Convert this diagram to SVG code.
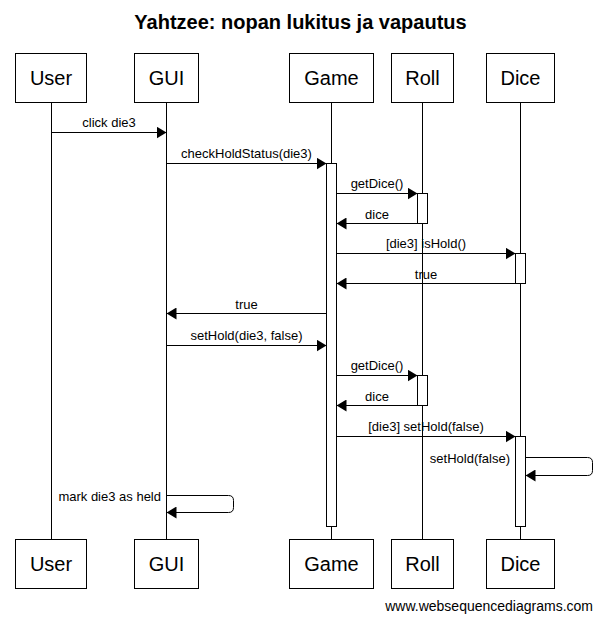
<svg xmlns="http://www.w3.org/2000/svg" width="602" height="623" viewBox="0 0 602 623">
<style>
.box{fill:#fff;stroke:#000;stroke-width:1}
.life{stroke:#000;stroke-width:1}
.act{fill:#fff;stroke:#000;stroke-width:1}
.msg{fill:none;stroke:#000;stroke-width:1;marker-end:url(#ah)}
.pt{font-family:"Liberation Sans",Arial,sans-serif;font-size:20px;fill:#000;text-anchor:middle}
.lbl{font-family:"Liberation Sans",Arial,sans-serif;font-size:13px;fill:#000;text-anchor:middle}
.lblr{font-family:"Liberation Sans",Arial,sans-serif;font-size:13px;fill:#000;text-anchor:end}
.title{font-family:"Liberation Sans",Arial,sans-serif;font-size:20px;font-weight:bold;fill:#000;text-anchor:middle}
.wm{font-family:"Liberation Sans",Arial,sans-serif;font-size:14px;fill:#000;text-anchor:end}
</style>
<defs>
<marker id="ah" markerUnits="userSpaceOnUse" markerWidth="10" markerHeight="12" refX="10" refY="6" orient="auto">
<path d="M0,0 L10,6 L0,12 z" fill="#000"/>
</marker>
</defs>
<rect width="602" height="623" fill="#fff"/>
<text class="title" x="300.5" y="29">Yahtzee: nopan lukitus ja vapautus</text>

<g id="lifelines">
<line class="life" x1="51.5" y1="102.5" x2="51.5" y2="539.5"/>
<line class="life" x1="166.5" y1="102.5" x2="166.5" y2="539.5"/>
<line class="life" x1="331.5" y1="102.5" x2="331.5" y2="539.5"/>
<line class="life" x1="422.5" y1="102.5" x2="422.5" y2="539.5"/>
<line class="life" x1="520.5" y1="102.5" x2="520.5" y2="539.5"/>
</g>

<g id="User">
<rect class="box" x="15.5" y="53.5" width="71" height="49"/>
<text class="pt" x="51" y="85">User</text>
<rect class="box" x="15.5" y="539.5" width="71" height="49"/>
<text class="pt" x="51" y="571">User</text>
</g>
<g id="GUI">
<rect class="box" x="134.5" y="53.5" width="64" height="49"/>
<text class="pt" x="166.5" y="85">GUI</text>
<rect class="box" x="134.5" y="539.5" width="64" height="49"/>
<text class="pt" x="166.5" y="571">GUI</text>
</g>
<g id="Game">
<rect class="box" x="289.5" y="53.5" width="84" height="49"/>
<text class="pt" x="331.5" y="85">Game</text>
<rect class="box" x="289.5" y="539.5" width="84" height="49"/>
<text class="pt" x="331.5" y="571">Game</text>
<rect class="act" x="326.5" y="163.5" width="10" height="363"/>
</g>
<g id="Roll">
<rect class="box" x="391.5" y="53.5" width="62" height="49"/>
<text class="pt" x="422.5" y="85">Roll</text>
<rect class="box" x="391.5" y="539.5" width="62" height="49"/>
<text class="pt" x="422.5" y="571">Roll</text>
<rect class="act" x="417.5" y="193.5" width="10" height="30"/>
<rect class="act" x="417.5" y="375.5" width="10" height="30"/>
</g>
<g id="Dice">
<rect class="box" x="486.5" y="53.5" width="68" height="49"/>
<text class="pt" x="520.5" y="85">Dice</text>
<rect class="box" x="486.5" y="539.5" width="68" height="49"/>
<text class="pt" x="520.5" y="571">Dice</text>
<rect class="act" x="515.5" y="253.5" width="10" height="30"/>
<rect class="act" x="515.5" y="436.5" width="10" height="90"/>
</g>

<g id="connectors">
<line class="msg" x1="51.5" y1="132.5" x2="166.5" y2="132.5"/>
<text class="lbl" x="109" y="127">click die3</text>
<line class="msg" x1="166.5" y1="163.5" x2="326.5" y2="163.5"/>
<text class="lbl" x="246.5" y="158">checkHoldStatus(die3)</text>
<line class="msg" x1="336.5" y1="193.5" x2="417.5" y2="193.5"/>
<text class="lbl" x="377" y="188">getDice()</text>
<line class="msg" x1="417.5" y1="223.5" x2="336.5" y2="223.5"/>
<text class="lbl" x="377" y="219">dice</text>
<line class="msg" x1="336.5" y1="253.5" x2="515.5" y2="253.5"/>
<text class="lbl" x="426" y="248">[die3] isHold()</text>
<line class="msg" x1="515.5" y1="283.5" x2="336.5" y2="283.5"/>
<text class="lbl" x="426" y="279">true</text>
<line class="msg" x1="326.5" y1="313.5" x2="166.5" y2="313.5"/>
<text class="lbl" x="246.5" y="309">true</text>
<line class="msg" x1="166.5" y1="345.5" x2="326.5" y2="345.5"/>
<text class="lbl" x="246.5" y="340">setHold(die3, false)</text>
<line class="msg" x1="336.5" y1="375.5" x2="417.5" y2="375.5"/>
<text class="lbl" x="377" y="370">getDice()</text>
<line class="msg" x1="417.5" y1="405.5" x2="336.5" y2="405.5"/>
<text class="lbl" x="377" y="401">dice</text>
<line class="msg" x1="336.5" y1="436.5" x2="515.5" y2="436.5"/>
<text class="lbl" x="426" y="431">[die3] setHold(false)</text>
<path class="msg" d="M525.5,457.5 H587.5 Q592.5,457.5 592.5,462.5 V470.5 Q592.5,475.5 587.5,475.5 H525.5"/>
<text class="lblr" x="510" y="463">setHold(false)</text>
<path class="msg" d="M166.5,495.5 H228.5 Q233.5,495.5 233.5,500.5 V507.5 Q233.5,512.5 228.5,512.5 H166.5"/>
<text class="lblr" x="161" y="501">mark die3 as held</text>
</g>

<text class="wm" x="593" y="611">www.websequencediagrams.com</text>
</svg>
